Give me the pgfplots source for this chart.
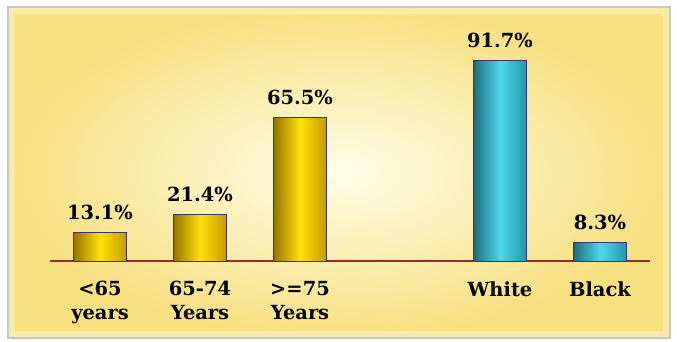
\documentclass[border=0pt]{standalone}
\usepackage{pgfplots}
\pgfplotsset{compat=1.18}
\usepackage{fontspec}
\setmainfont{DejaVu Serif}
\definecolor{frameY}{RGB}{247,224,128}
\definecolor{innerY}{RGB}{255,253,232}
\definecolor{axred}{RGB}{160,40,40}
\definecolor{barEdge}{RGB}{60,50,110}
\definecolor{goldL}{RGB}{150,115,0}
\definecolor{goldM}{RGB}{255,225,10}
\definecolor{goldR}{RGB}{195,155,0}
\definecolor{cyanL}{RGB}{25,110,125}
\definecolor{cyanM}{RGB}{80,215,235}
\definecolor{cyanR}{RGB}{35,150,175}
\pgfplotsset{
  goldbar/.style={ybar, bar width=0.53, bar shift=0pt, draw=barEdge, line width=0.9bp, left color=goldL, right color=goldR, middle color=goldM},
  cyanbar/.style={ybar, bar width=0.53, bar shift=0pt, draw=barEdge, line width=0.9bp, left color=cyanL, right color=cyanR, middle color=cyanM},
}
\begin{document}
\begin{tikzpicture}[x=1bp,y=1bp]
\fill[white] (0,0) rectangle (677,341);
\shade[inner color=innerY, outer color=frameY] (8,3) rectangle (670,334);
\draw[white, opacity=0.35, line width=6bp] (12,7) rectangle (666,330);
\draw[black!22, line width=1.2bp] (8,3) rectangle (670,334);
\begin{axis}[
  at={(50bp,80bp)}, anchor=south west,
  scale only axis, width=600bp, height=241bp,
  xmin=-0.5, xmax=5.5, ymin=0, ymax=110,
  hide y axis, axis x line*=bottom,
  x axis line style={draw=axred, line width=1.5bp},
  xtick={0,1,2,4,5},
  xticklabels={{<65\\years},{65-74\\Years},{>=75\\Years},White,Black},
  major tick length=0pt,
  xticklabel style={font=\bfseries\fontsize{19.5}{24}\selectfont, align=center, anchor=north, yshift=-17bp, text=black},
  clip=false,
  nodes near coords={\pgfmathprintnumber[fixed, precision=1, fixed zerofill, assume math mode=true]{\pgfplotspointmeta}\%},
  every node near coord/.append style={font=\bfseries\fontsize{19.5}{22}\selectfont, text=black, yshift=9bp},
]
\addplot[goldbar] coordinates {(0,13.1)};
\addplot[goldbar] coordinates {(1,21.4)};
\addplot[goldbar] coordinates {(2,65.5)};
\addplot[cyanbar] coordinates {(4,91.7)};
\addplot[cyanbar] coordinates {(5,8.3)};
\end{axis}
\end{tikzpicture}
\end{document}
